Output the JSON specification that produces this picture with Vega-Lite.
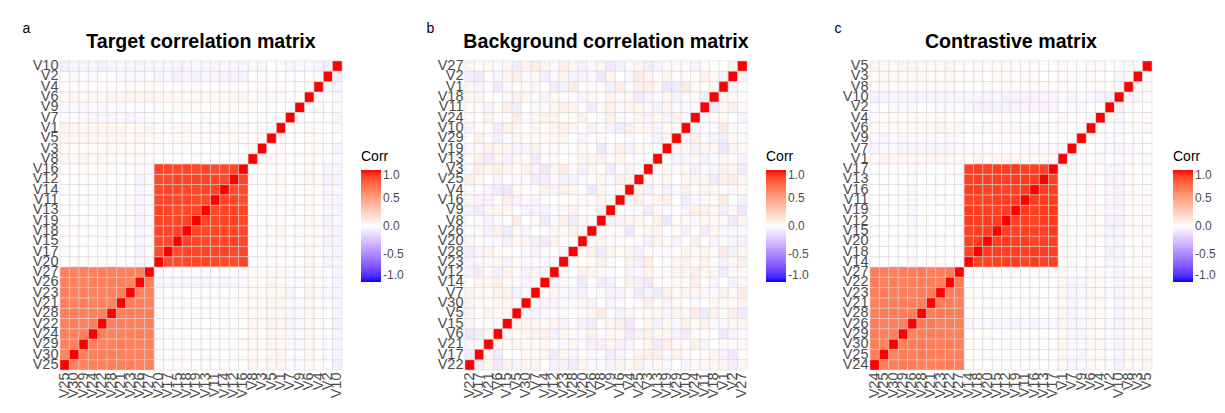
{
  "$schema": "https://vega.github.io/schema/vega-lite/v6.json",
  "padding": {"left": 22, "top": 21, "right": 5, "bottom": 0},
  "background": "white",
  "config": {
    "font": "Liberation Sans",
    "view": {"stroke": null},
    "rect": {"stroke": "#d2d2d2", "strokeWidth": 0.5},
    "title": {"fontSize": 19.6, "fontWeight": "bold", "color": "black", "offset": -32, "anchor": "middle", "frame": "group"},
    "axis": {"domain": false, "ticks": false, "grid": false, "labelFontSize": 14.5, "labelColor": "#4d4d4d", "labelPadding": 2, "labelOverlap": false, "labelBound": false},
    "axisX": {"labelAngle": -90},
    "legend": {"titleFontSize": 14, "titleFontWeight": "normal", "titleColor": "black", "labelFontSize": 12, "labelColor": "#4d4d4d", "gradientLength": 112, "gradientThickness": 20, "titlePadding": 6, "labelOffset": 7, "gradientStrokeWidth": 0}
  },
  "datasets": {
    "corr": [
      {"i":"V1","j":"V1","a":1,"b":1,"c":1},{"i":"V2","j":"V2","a":1,"b":1,"c":1},{"i":"V3","j":"V3","a":1,"b":1,"c":1},{"i":"V4","j":"V4","a":1,"b":1,"c":1},{"i":"V5","j":"V5","a":1,"b":1,"c":1},
      {"i":"V6","j":"V6","a":1,"b":1,"c":1},{"i":"V7","j":"V7","a":1,"b":1,"c":1},{"i":"V8","j":"V8","a":1,"b":1,"c":1},{"i":"V9","j":"V9","a":1,"b":1,"c":1},{"i":"V10","j":"V10","a":1,"b":1,"c":1},
      {"i":"V11","j":"V11","a":1,"b":1,"c":1},{"i":"V12","j":"V12","a":1,"b":1,"c":1},{"i":"V13","j":"V13","a":1,"b":1,"c":1},{"i":"V14","j":"V14","a":1,"b":1,"c":1},{"i":"V15","j":"V15","a":1,"b":1,"c":1},
      {"i":"V16","j":"V16","a":1,"b":1,"c":1},{"i":"V17","j":"V17","a":1,"b":1,"c":1},{"i":"V18","j":"V18","a":1,"b":1,"c":1},{"i":"V19","j":"V19","a":1,"b":1,"c":1},{"i":"V20","j":"V20","a":1,"b":1,"c":1},
      {"i":"V21","j":"V21","a":1,"b":1,"c":1},{"i":"V22","j":"V22","a":1,"b":1,"c":1},{"i":"V23","j":"V23","a":1,"b":1,"c":1},{"i":"V24","j":"V24","a":1,"b":1,"c":1},{"i":"V25","j":"V25","a":1,"b":1,"c":1},
      {"i":"V26","j":"V26","a":1,"b":1,"c":1},{"i":"V27","j":"V27","a":1,"b":1,"c":1},{"i":"V28","j":"V28","a":1,"b":1,"c":1},{"i":"V29","j":"V29","a":1,"b":1,"c":1},{"i":"V30","j":"V30","a":1,"b":1,"c":1},

      {"i":"V1","j":"V2","a":0.01,"b":-0.05,"c":0},{"i":"V1","j":"V3","a":0.03,"b":0.08,"c":0.02},{"i":"V1","j":"V4","a":0.02,"b":-0.02,"c":0.03},{"i":"V1","j":"V5","a":0.04,"b":0.03,"c":0.03},{"i":"V1","j":"V6","a":0.03,"b":-0.1,"c":0.02},
      {"i":"V1","j":"V7","a":-0.01,"b":0.06,"c":-0.02},{"i":"V1","j":"V8","a":0.02,"b":0.02,"c":0.03},{"i":"V1","j":"V9","a":0,"b":-0.06,"c":-0.01},{"i":"V1","j":"V10","a":-0.02,"b":0.11,"c":-0.03},
      {"i":"V1","j":"V11","a":0.03,"b":0.03,"c":0.04},{"i":"V1","j":"V12","a":0.04,"b":-0.08,"c":0.05},{"i":"V1","j":"V13","a":0.02,"b":0.05,"c":0.04},{"i":"V1","j":"V14","a":0.03,"b":0,"c":0.03},{"i":"V1","j":"V15","a":0.04,"b":-0.03,"c":0.05},
      {"i":"V1","j":"V16","a":0.03,"b":0.1,"c":0.04},{"i":"V1","j":"V17","a":0.02,"b":-0.05,"c":0.03},{"i":"V1","j":"V18","a":0.05,"b":0.06,"c":0.05},{"i":"V1","j":"V19","a":0.03,"b":-0.11,"c":0.04},{"i":"V1","j":"V20","a":0.02,"b":0.02,"c":0.03},
      {"i":"V1","j":"V21","a":0.05,"b":-0.02,"c":0.05},{"i":"V1","j":"V22","a":0.06,"b":0.05,"c":0.06},{"i":"V1","j":"V23","a":0.04,"b":-0.06,"c":0.05},{"i":"V1","j":"V24","a":0.05,"b":0.03,"c":0.04},{"i":"V1","j":"V25","a":0.06,"b":0.08,"c":0.06},
      {"i":"V1","j":"V26","a":0.04,"b":-0.03,"c":0.05},{"i":"V1","j":"V27","a":0.05,"b":0,"c":0.04},{"i":"V1","j":"V28","a":0.05,"b":0.1,"c":0.06},{"i":"V1","j":"V29","a":0.04,"b":-0.08,"c":0.05},{"i":"V1","j":"V30","a":0.06,"b":0.03,"c":0.05},

      {"i":"V2","j":"V3","a":0.01,"b":0.06,"c":0},{"i":"V2","j":"V4","a":0.02,"b":-0.03,"c":0.01},{"i":"V2","j":"V5","a":-0.01,"b":0.1,"c":0},{"i":"V2","j":"V6","a":0,"b":-0.05,"c":-0.01},
      {"i":"V2","j":"V7","a":-0.02,"b":0.03,"c":-0.03},{"i":"V2","j":"V8","a":0.01,"b":-0.1,"c":0.01},{"i":"V2","j":"V9","a":-0.01,"b":0.05,"c":-0.02},{"i":"V2","j":"V10","a":-0.07,"b":-0.02,"c":-0.06},
      {"i":"V2","j":"V11","a":-0.05,"b":0.08,"c":-0.05},{"i":"V2","j":"V12","a":-0.06,"b":-0.03,"c":-0.06},{"i":"V2","j":"V13","a":-0.04,"b":0.02,"c":-0.05},{"i":"V2","j":"V14","a":-0.05,"b":-0.06,"c":-0.04},{"i":"V2","j":"V15","a":-0.06,"b":0.05,"c":-0.06},
      {"i":"V2","j":"V16","a":-0.05,"b":0,"c":-0.05},{"i":"V2","j":"V17","a":-0.04,"b":-0.1,"c":-0.04},{"i":"V2","j":"V18","a":-0.05,"b":0.03,"c":-0.06},{"i":"V2","j":"V19","a":-0.06,"b":0.06,"c":-0.05},{"i":"V2","j":"V20","a":-0.05,"b":-0.05,"c":-0.05},
      {"i":"V2","j":"V21","a":-0.02,"b":0.02,"c":-0.01},{"i":"V2","j":"V22","a":-0.01,"b":-0.08,"c":-0.02},{"i":"V2","j":"V23","a":-0.03,"b":0.05,"c":-0.03},{"i":"V2","j":"V24","a":-0.02,"b":0,"c":-0.02},{"i":"V2","j":"V25","a":-0.01,"b":0.1,"c":-0.01},
      {"i":"V2","j":"V26","a":-0.03,"b":-0.03,"c":-0.03},{"i":"V2","j":"V27","a":-0.02,"b":0.06,"c":-0.02},{"i":"V2","j":"V28","a":-0.01,"b":-0.06,"c":-0.01},{"i":"V2","j":"V29","a":-0.02,"b":0.03,"c":-0.03},{"i":"V2","j":"V30","a":-0.03,"b":-0.02,"c":-0.02},

      {"i":"V3","j":"V4","a":0.02,"b":-0.06,"c":0.01},{"i":"V3","j":"V5","a":0.01,"b":0.03,"c":0.02},{"i":"V3","j":"V6","a":0.03,"b":0.08,"c":0.02},{"i":"V3","j":"V7","a":-0.01,"b":-0.05,"c":-0.02},
      {"i":"V3","j":"V8","a":0.02,"b":0.02,"c":0.03},{"i":"V3","j":"V9","a":0,"b":-0.08,"c":-0.01},{"i":"V3","j":"V10","a":-0.04,"b":0.05,"c":-0.04},
      {"i":"V3","j":"V11","a":0,"b":-0.03,"c":0.01},{"i":"V3","j":"V12","a":0.01,"b":0.06,"c":0.02},{"i":"V3","j":"V13","a":-0.01,"b":0,"c":0},{"i":"V3","j":"V14","a":0,"b":-0.1,"c":0.01},{"i":"V3","j":"V15","a":0.01,"b":0.05,"c":0.02},
      {"i":"V3","j":"V16","a":0,"b":-0.02,"c":0.01},{"i":"V3","j":"V17","a":-0.01,"b":0.08,"c":0},{"i":"V3","j":"V18","a":0.01,"b":-0.05,"c":0.02},{"i":"V3","j":"V19","a":0,"b":0.03,"c":0.01},{"i":"V3","j":"V20","a":0.01,"b":-0.06,"c":0},
      {"i":"V3","j":"V21","a":0.02,"b":0.05,"c":0.03},{"i":"V3","j":"V22","a":0.03,"b":-0.03,"c":0.04},{"i":"V3","j":"V23","a":0.02,"b":0.1,"c":0.03},{"i":"V3","j":"V24","a":0.01,"b":-0.06,"c":0.02},{"i":"V3","j":"V25","a":0.03,"b":0.02,"c":0.04},
      {"i":"V3","j":"V26","a":0.02,"b":0.06,"c":0.03},{"i":"V3","j":"V27","a":0.02,"b":-0.08,"c":0.02},{"i":"V3","j":"V28","a":0.03,"b":0.03,"c":0.04},{"i":"V3","j":"V29","a":0.02,"b":-0.02,"c":0.03},{"i":"V3","j":"V30","a":0.01,"b":0.08,"c":0.03},

      {"i":"V4","j":"V5","a":0.01,"b":0.05,"c":0.02},{"i":"V4","j":"V6","a":0.02,"b":-0.08,"c":0.01},{"i":"V4","j":"V7","a":-0.01,"b":0.02,"c":-0.02},{"i":"V4","j":"V8","a":0.02,"b":0.06,"c":0.01},
      {"i":"V4","j":"V9","a":0.01,"b":-0.03,"c":0},{"i":"V4","j":"V10","a":-0.05,"b":0.08,"c":-0.05},
      {"i":"V4","j":"V11","a":0.01,"b":0.06,"c":0},{"i":"V4","j":"V12","a":0.02,"b":-0.05,"c":0.01},{"i":"V4","j":"V13","a":0,"b":0.02,"c":-0.01},{"i":"V4","j":"V14","a":0.01,"b":0.08,"c":0},{"i":"V4","j":"V15","a":0.02,"b":-0.1,"c":0.01},
      {"i":"V4","j":"V16","a":0.01,"b":0.03,"c":0},{"i":"V4","j":"V17","a":0,"b":-0.02,"c":-0.01},{"i":"V4","j":"V18","a":0.01,"b":0.05,"c":0},{"i":"V4","j":"V19","a":0.02,"b":-0.06,"c":0.01},{"i":"V4","j":"V20","a":0.01,"b":0,"c":0},
      {"i":"V4","j":"V21","a":0.02,"b":-0.05,"c":0.02},{"i":"V4","j":"V22","a":0.01,"b":0.03,"c":0.01},{"i":"V4","j":"V23","a":0.03,"b":0.08,"c":0.03},{"i":"V4","j":"V24","a":0.02,"b":-0.02,"c":0.02},{"i":"V4","j":"V25","a":0.01,"b":0.06,"c":0.01},
      {"i":"V4","j":"V26","a":0.02,"b":-0.1,"c":0.03},{"i":"V4","j":"V27","a":0.03,"b":0.02,"c":0.02},{"i":"V4","j":"V28","a":0.02,"b":0.05,"c":0.02},{"i":"V4","j":"V29","a":0.01,"b":-0.03,"c":0.01},{"i":"V4","j":"V30","a":0.02,"b":0,"c":0.03},

      {"i":"V5","j":"V6","a":0.03,"b":0.03,"c":0.03},{"i":"V5","j":"V7","a":-0.01,"b":-0.06,"c":-0.01},{"i":"V5","j":"V8","a":0.02,"b":0.1,"c":0.03},{"i":"V5","j":"V9","a":0.01,"b":-0.02,"c":0},{"i":"V5","j":"V10","a":0,"b":0.05,"c":-0.01},
      {"i":"V5","j":"V11","a":0.02,"b":-0.08,"c":0.02},{"i":"V5","j":"V12","a":0.03,"b":0.02,"c":0.03},{"i":"V5","j":"V13","a":0.02,"b":0.06,"c":0.01},{"i":"V5","j":"V14","a":0.01,"b":-0.03,"c":0.02},{"i":"V5","j":"V15","a":0.03,"b":0.05,"c":0.03},
      {"i":"V5","j":"V16","a":0.02,"b":-0.06,"c":0.02},{"i":"V5","j":"V17","a":0.02,"b":0,"c":0.01},{"i":"V5","j":"V18","a":0.03,"b":0.08,"c":0.03},{"i":"V5","j":"V19","a":0.01,"b":-0.05,"c":0.02},{"i":"V5","j":"V20","a":0.02,"b":0.03,"c":0.02},
      {"i":"V5","j":"V21","a":0.05,"b":0.06,"c":0.04},{"i":"V5","j":"V22","a":0.06,"b":-0.05,"c":0.05},{"i":"V5","j":"V23","a":0.04,"b":0.02,"c":0.04},{"i":"V5","j":"V24","a":0.05,"b":0.1,"c":0.05},{"i":"V5","j":"V25","a":0.05,"b":-0.03,"c":0.04},
      {"i":"V5","j":"V26","a":0.06,"b":0.05,"c":0.05},{"i":"V5","j":"V27","a":0.04,"b":-0.08,"c":0.03},{"i":"V5","j":"V28","a":0.05,"b":0,"c":0.04},{"i":"V5","j":"V29","a":0.06,"b":0.06,"c":0.05},{"i":"V5","j":"V30","a":0.05,"b":-0.02,"c":0.04},

      {"i":"V6","j":"V7","a":0.01,"b":0.08,"c":0},{"i":"V6","j":"V8","a":0.03,"b":-0.03,"c":0.02},{"i":"V6","j":"V9","a":0.02,"b":0.05,"c":0.01},{"i":"V6","j":"V10","a":-0.03,"b":-0.08,"c":-0.03},
      {"i":"V6","j":"V11","a":0.04,"b":0.02,"c":0.03},{"i":"V6","j":"V12","a":0.05,"b":-0.06,"c":0.04},{"i":"V6","j":"V13","a":0.04,"b":0.05,"c":0.03},{"i":"V6","j":"V14","a":0.03,"b":0.08,"c":0.02},{"i":"V6","j":"V15","a":0.04,"b":-0.02,"c":0.03},
      {"i":"V6","j":"V16","a":0.05,"b":0.03,"c":0.04},{"i":"V6","j":"V17","a":0.04,"b":-0.08,"c":0.03},{"i":"V6","j":"V18","a":0.03,"b":0,"c":0.03},{"i":"V6","j":"V19","a":0.04,"b":0.06,"c":0.04},{"i":"V6","j":"V20","a":0.05,"b":-0.03,"c":0.03},
      {"i":"V6","j":"V21","a":0.05,"b":0.03,"c":0.04},{"i":"V6","j":"V22","a":0.04,"b":-0.1,"c":0.04},{"i":"V6","j":"V23","a":0.06,"b":0.05,"c":0.05},{"i":"V6","j":"V24","a":0.05,"b":0.02,"c":0.04},{"i":"V6","j":"V25","a":0.04,"b":-0.05,"c":0.03},
      {"i":"V6","j":"V26","a":0.05,"b":0.08,"c":0.04},{"i":"V6","j":"V27","a":0.06,"b":-0.02,"c":0.05},{"i":"V6","j":"V28","a":0.05,"b":0.03,"c":0.04},{"i":"V6","j":"V29","a":0.04,"b":-0.06,"c":0.03},{"i":"V6","j":"V30","a":0.05,"b":0.05,"c":0.04},

      {"i":"V7","j":"V8","a":-0.01,"b":0.03,"c":-0.02},{"i":"V7","j":"V9","a":-0.02,"b":-0.05,"c":-0.01},{"i":"V7","j":"V10","a":-0.04,"b":0.06,"c":-0.04},
      {"i":"V7","j":"V11","a":-0.01,"b":-0.03,"c":-0.02},{"i":"V7","j":"V12","a":0,"b":0.05,"c":-0.01},{"i":"V7","j":"V13","a":-0.02,"b":-0.08,"c":-0.03},{"i":"V7","j":"V14","a":-0.01,"b":0.02,"c":-0.02},{"i":"V7","j":"V15","a":0,"b":0.06,"c":-0.01},
      {"i":"V7","j":"V16","a":-0.01,"b":-0.05,"c":-0.02},{"i":"V7","j":"V17","a":-0.02,"b":0.03,"c":-0.03},{"i":"V7","j":"V18","a":-0.01,"b":-0.02,"c":-0.02},{"i":"V7","j":"V19","a":0,"b":0.08,"c":-0.01},{"i":"V7","j":"V20","a":-0.01,"b":-0.06,"c":-0.02},
      {"i":"V7","j":"V21","a":-0.03,"b":0.02,"c":-0.04},{"i":"V7","j":"V22","a":-0.04,"b":0.06,"c":-0.05},{"i":"V7","j":"V23","a":-0.05,"b":-0.03,"c":-0.04},{"i":"V7","j":"V24","a":-0.04,"b":0.05,"c":-0.05},{"i":"V7","j":"V25","a":-0.02,"b":-0.08,"c":-0.03},
      {"i":"V7","j":"V26","a":-0.03,"b":0,"c":-0.04},{"i":"V7","j":"V27","a":-0.02,"b":0.1,"c":-0.03},{"i":"V7","j":"V28","a":-0.04,"b":-0.05,"c":-0.05},{"i":"V7","j":"V29","a":-0.03,"b":0.03,"c":-0.04},{"i":"V7","j":"V30","a":-0.02,"b":-0.02,"c":-0.03},

      {"i":"V8","j":"V9","a":0.01,"b":-0.06,"c":0},{"i":"V8","j":"V10","a":-0.03,"b":0.03,"c":-0.03},
      {"i":"V8","j":"V11","a":0,"b":0.05,"c":0.02},{"i":"V8","j":"V12","a":0.01,"b":-0.03,"c":0.03},{"i":"V8","j":"V13","a":-0.01,"b":0.08,"c":0.02},{"i":"V8","j":"V14","a":0,"b":-0.08,"c":0.01},{"i":"V8","j":"V15","a":0.01,"b":0.02,"c":0.02},
      {"i":"V8","j":"V16","a":0,"b":0.06,"c":0.03},{"i":"V8","j":"V17","a":-0.01,"b":-0.02,"c":0.02},{"i":"V8","j":"V18","a":0,"b":0.03,"c":0.01},{"i":"V8","j":"V19","a":0.01,"b":-0.1,"c":0.02},{"i":"V8","j":"V20","a":0,"b":0.05,"c":0.02},
      {"i":"V8","j":"V21","a":0.04,"b":-0.06,"c":0.03},{"i":"V8","j":"V22","a":0.05,"b":0.02,"c":0.04},{"i":"V8","j":"V23","a":0.03,"b":0.08,"c":0.03},{"i":"V8","j":"V24","a":0.04,"b":-0.03,"c":0.03},{"i":"V8","j":"V25","a":0.05,"b":0.05,"c":0.04},
      {"i":"V8","j":"V26","a":0.04,"b":-0.02,"c":0.03},{"i":"V8","j":"V27","a":0.03,"b":0.06,"c":0.02},{"i":"V8","j":"V28","a":0.04,"b":-0.08,"c":0.03},{"i":"V8","j":"V29","a":0.05,"b":0.03,"c":0.04},{"i":"V8","j":"V30","a":0.04,"b":0,"c":0.03},

      {"i":"V9","j":"V10","a":-0.02,"b":-0.05,"c":-0.02},
      {"i":"V9","j":"V11","a":0.01,"b":0.08,"c":0},{"i":"V9","j":"V12","a":0.02,"b":-0.02,"c":0.01},{"i":"V9","j":"V13","a":0,"b":0.03,"c":-0.01},{"i":"V9","j":"V14","a":0.01,"b":-0.06,"c":0},{"i":"V9","j":"V15","a":0.02,"b":0.05,"c":0.01},
      {"i":"V9","j":"V16","a":0.01,"b":0,"c":0},{"i":"V9","j":"V17","a":0,"b":-0.08,"c":-0.01},{"i":"V9","j":"V18","a":0.01,"b":0.06,"c":0},{"i":"V9","j":"V19","a":0.02,"b":-0.03,"c":0.01},{"i":"V9","j":"V20","a":0.01,"b":0.02,"c":0},
      {"i":"V9","j":"V21","a":-0.02,"b":0.05,"c":-0.03},{"i":"V9","j":"V22","a":-0.03,"b":-0.06,"c":-0.04},{"i":"V9","j":"V23","a":-0.01,"b":0.03,"c":-0.02},{"i":"V9","j":"V24","a":-0.02,"b":0.08,"c":-0.03},{"i":"V9","j":"V25","a":-0.03,"b":-0.02,"c":-0.04},
      {"i":"V9","j":"V26","a":-0.02,"b":0.02,"c":-0.03},{"i":"V9","j":"V27","a":-0.01,"b":-0.1,"c":-0.02},{"i":"V9","j":"V28","a":-0.02,"b":0.05,"c":-0.03},{"i":"V9","j":"V29","a":-0.03,"b":0,"c":-0.04},{"i":"V9","j":"V30","a":-0.02,"b":-0.05,"c":-0.03},

      {"i":"V10","j":"V11","a":-0.04,"b":-0.02,"c":-0.05},{"i":"V10","j":"V12","a":-0.05,"b":0.06,"c":-0.06},{"i":"V10","j":"V13","a":-0.04,"b":-0.05,"c":-0.05},{"i":"V10","j":"V14","a":-0.03,"b":0.03,"c":-0.04},{"i":"V10","j":"V15","a":-0.05,"b":0.08,"c":-0.05},
      {"i":"V10","j":"V16","a":-0.04,"b":-0.08,"c":-0.06},{"i":"V10","j":"V17","a":-0.04,"b":0.02,"c":-0.05},{"i":"V10","j":"V18","a":-0.05,"b":-0.03,"c":-0.04},{"i":"V10","j":"V19","a":-0.03,"b":0.05,"c":-0.05},{"i":"V10","j":"V20","a":-0.04,"b":0,"c":-0.05},
      {"i":"V10","j":"V21","a":-0.04,"b":0.03,"c":-0.05},{"i":"V10","j":"V22","a":-0.06,"b":-0.05,"c":-0.05},{"i":"V10","j":"V23","a":-0.04,"b":0.08,"c":-0.04},{"i":"V10","j":"V24","a":-0.05,"b":-0.02,"c":-0.06},{"i":"V10","j":"V25","a":-0.07,"b":0.05,"c":-0.05},
      {"i":"V10","j":"V26","a":-0.05,"b":-0.06,"c":-0.05},{"i":"V10","j":"V27","a":-0.04,"b":0.02,"c":-0.04},{"i":"V10","j":"V28","a":-0.05,"b":0.06,"c":-0.06},{"i":"V10","j":"V29","a":-0.04,"b":-0.03,"c":-0.05},{"i":"V10","j":"V30","a":-0.05,"b":0,"c":-0.05},

      {"i":"V11","j":"V12","a":0.88,"b":0.05,"c":0.9},{"i":"V11","j":"V13","a":0.87,"b":-0.06,"c":0.91},{"i":"V11","j":"V14","a":0.89,"b":0.02,"c":0.89},{"i":"V11","j":"V15","a":0.88,"b":0.08,"c":0.9},{"i":"V11","j":"V16","a":0.86,"b":-0.03,"c":0.91},
      {"i":"V11","j":"V17","a":0.88,"b":0.03,"c":0.9},{"i":"V11","j":"V18","a":0.89,"b":-0.08,"c":0.89},{"i":"V11","j":"V19","a":0.87,"b":0.06,"c":0.91},{"i":"V11","j":"V20","a":0.88,"b":0,"c":0.9},
      {"i":"V11","j":"V21","a":0.01,"b":-0.05,"c":0},{"i":"V11","j":"V22","a":0,"b":0.03,"c":0.01},{"i":"V11","j":"V23","a":0.02,"b":0.08,"c":0.01},{"i":"V11","j":"V24","a":0.01,"b":-0.02,"c":0},{"i":"V11","j":"V25","a":0,"b":0.05,"c":-0.01},
      {"i":"V11","j":"V26","a":-0.04,"b":-0.08,"c":-0.03},{"i":"V11","j":"V27","a":-0.03,"b":0.02,"c":-0.01},{"i":"V11","j":"V28","a":0.01,"b":0.06,"c":0},{"i":"V11","j":"V29","a":0.02,"b":-0.03,"c":0.01},{"i":"V11","j":"V30","a":0.01,"b":0,"c":0},

      {"i":"V12","j":"V13","a":0.88,"b":0.03,"c":0.9},{"i":"V12","j":"V14","a":0.87,"b":-0.05,"c":0.91},{"i":"V12","j":"V15","a":0.89,"b":0.06,"c":0.9},{"i":"V12","j":"V16","a":0.88,"b":0,"c":0.89},{"i":"V12","j":"V17","a":0.87,"b":-0.08,"c":0.91},
      {"i":"V12","j":"V18","a":0.88,"b":0.05,"c":0.9},{"i":"V12","j":"V19","a":0.89,"b":-0.02,"c":0.9},{"i":"V12","j":"V20","a":0.87,"b":0.08,"c":0.91},
      {"i":"V12","j":"V21","a":0,"b":0.03,"c":0.01},{"i":"V12","j":"V22","a":0.01,"b":-0.06,"c":0},{"i":"V12","j":"V23","a":0.01,"b":0.02,"c":0},{"i":"V12","j":"V24","a":0.02,"b":0.08,"c":0.01},{"i":"V12","j":"V25","a":0.01,"b":-0.03,"c":0},
      {"i":"V12","j":"V26","a":-0.04,"b":0.05,"c":-0.03},{"i":"V12","j":"V27","a":-0.03,"b":-0.02,"c":-0.02},{"i":"V12","j":"V28","a":0,"b":0,"c":0.01},{"i":"V12","j":"V29","a":0.01,"b":0.06,"c":0},{"i":"V12","j":"V30","a":0.02,"b":-0.05,"c":0.01},

      {"i":"V13","j":"V14","a":0.88,"b":0.02,"c":0.9},{"i":"V13","j":"V15","a":0.87,"b":-0.06,"c":0.9},{"i":"V13","j":"V16","a":0.89,"b":0.05,"c":0.91},{"i":"V13","j":"V17","a":0.88,"b":0.08,"c":0.89},{"i":"V13","j":"V18","a":0.87,"b":-0.03,"c":0.9},
      {"i":"V13","j":"V19","a":0.88,"b":0,"c":0.91},{"i":"V13","j":"V20","a":0.89,"b":0.06,"c":0.9},
      {"i":"V13","j":"V21","a":0.01,"b":-0.08,"c":0},{"i":"V13","j":"V22","a":0,"b":0.03,"c":0.01},{"i":"V13","j":"V23","a":0.02,"b":0,"c":0.01},{"i":"V13","j":"V24","a":0.01,"b":0.05,"c":0},{"i":"V13","j":"V25","a":0.01,"b":-0.02,"c":0.01},
      {"i":"V13","j":"V26","a":-0.05,"b":0.06,"c":-0.03},{"i":"V13","j":"V27","a":-0.03,"b":-0.05,"c":-0.02},{"i":"V13","j":"V28","a":0.01,"b":0.02,"c":0},{"i":"V13","j":"V29","a":0,"b":-0.06,"c":0.01},{"i":"V13","j":"V30","a":0.01,"b":0.03,"c":0},

      {"i":"V14","j":"V15","a":0.88,"b":0.03,"c":0.9},{"i":"V14","j":"V16","a":0.87,"b":-0.02,"c":0.91},{"i":"V14","j":"V17","a":0.89,"b":0.06,"c":0.9},{"i":"V14","j":"V18","a":0.88,"b":-0.05,"c":0.89},{"i":"V14","j":"V19","a":0.88,"b":0.02,"c":0.91},
      {"i":"V14","j":"V20","a":0.87,"b":-0.08,"c":0.9},
      {"i":"V14","j":"V21","a":0.02,"b":0.05,"c":0.01},{"i":"V14","j":"V22","a":0.01,"b":0,"c":0},{"i":"V14","j":"V23","a":0,"b":-0.03,"c":0.01},{"i":"V14","j":"V24","a":0.01,"b":0.08,"c":0.01},{"i":"V14","j":"V25","a":0.02,"b":-0.06,"c":0},
      {"i":"V14","j":"V26","a":-0.04,"b":0.02,"c":-0.04},{"i":"V14","j":"V27","a":-0.02,"b":0.05,"c":-0.02},{"i":"V14","j":"V28","a":0.01,"b":-0.02,"c":0},{"i":"V14","j":"V29","a":0.01,"b":0.03,"c":0.01},{"i":"V14","j":"V30","a":0,"b":-0.05,"c":0},

      {"i":"V15","j":"V16","a":0.88,"b":0.08,"c":0.9},{"i":"V15","j":"V17","a":0.87,"b":0,"c":0.91},{"i":"V15","j":"V18","a":0.89,"b":-0.03,"c":0.9},{"i":"V15","j":"V19","a":0.88,"b":0.05,"c":0.89},{"i":"V15","j":"V20","a":0.87,"b":-0.06,"c":0.9},
      {"i":"V15","j":"V21","a":0.01,"b":0.02,"c":0},{"i":"V15","j":"V22","a":0.02,"b":0.06,"c":0.01},{"i":"V15","j":"V23","a":0.01,"b":-0.05,"c":0},{"i":"V15","j":"V24","a":0,"b":0.03,"c":0.01},{"i":"V15","j":"V25","a":0.01,"b":0,"c":0},
      {"i":"V15","j":"V26","a":-0.04,"b":-0.08,"c":-0.03},{"i":"V15","j":"V27","a":-0.03,"b":0.05,"c":-0.01},{"i":"V15","j":"V28","a":0.02,"b":0.02,"c":0.01},{"i":"V15","j":"V29","a":0.01,"b":-0.03,"c":0},{"i":"V15","j":"V30","a":0.01,"b":0.06,"c":0.01},

      {"i":"V16","j":"V17","a":0.88,"b":-0.05,"c":0.9},{"i":"V16","j":"V18","a":0.88,"b":0.03,"c":0.91},{"i":"V16","j":"V19","a":0.87,"b":0.08,"c":0.9},{"i":"V16","j":"V20","a":0.89,"b":-0.02,"c":0.89},
      {"i":"V16","j":"V21","a":0,"b":-0.06,"c":0.01},{"i":"V16","j":"V22","a":0.01,"b":0.05,"c":0},{"i":"V16","j":"V23","a":0.02,"b":0,"c":0.01},{"i":"V16","j":"V24","a":0.01,"b":-0.03,"c":0},{"i":"V16","j":"V25","a":0,"b":0.08,"c":0.01},
      {"i":"V16","j":"V26","a":-0.03,"b":0.02,"c":-0.04},{"i":"V16","j":"V27","a":-0.03,"b":-0.06,"c":-0.02},{"i":"V16","j":"V28","a":0.01,"b":0.03,"c":0},{"i":"V16","j":"V29","a":0.02,"b":0,"c":0.01},{"i":"V16","j":"V30","a":0.01,"b":-0.02,"c":0},

      {"i":"V17","j":"V18","a":0.88,"b":0.06,"c":0.9},{"i":"V17","j":"V19","a":0.88,"b":-0.03,"c":0.91},{"i":"V17","j":"V20","a":0.87,"b":0.02,"c":0.9},
      {"i":"V17","j":"V21","a":0.01,"b":0.03,"c":0},{"i":"V17","j":"V22","a":0,"b":-0.08,"c":0.01},{"i":"V17","j":"V23","a":0.01,"b":0.05,"c":0},{"i":"V17","j":"V24","a":0.02,"b":0,"c":0.01},{"i":"V17","j":"V25","a":0.01,"b":0.06,"c":0},
      {"i":"V17","j":"V26","a":-0.04,"b":-0.03,"c":-0.03},{"i":"V17","j":"V27","a":-0.02,"b":0.02,"c":-0.02},{"i":"V17","j":"V28","a":0.01,"b":-0.05,"c":0.01},{"i":"V17","j":"V29","a":0,"b":0.08,"c":0},{"i":"V17","j":"V30","a":0.01,"b":0.03,"c":0.01},

      {"i":"V18","j":"V19","a":0.89,"b":0.05,"c":0.9},{"i":"V18","j":"V20","a":0.88,"b":-0.05,"c":0.91},
      {"i":"V18","j":"V21","a":0.02,"b":0,"c":0.01},{"i":"V18","j":"V22","a":0.01,"b":0.06,"c":0},{"i":"V18","j":"V23","a":0,"b":-0.02,"c":0.01},{"i":"V18","j":"V24","a":0.01,"b":0.03,"c":0},{"i":"V18","j":"V25","a":0.02,"b":-0.08,"c":0.01},
      {"i":"V18","j":"V26","a":-0.04,"b":0.05,"c":-0.03},{"i":"V18","j":"V27","a":-0.03,"b":0,"c":-0.02},{"i":"V18","j":"V28","a":0,"b":0.02,"c":0},{"i":"V18","j":"V29","a":0.01,"b":-0.06,"c":0.01},{"i":"V18","j":"V30","a":0.02,"b":0.05,"c":0},

      {"i":"V19","j":"V20","a":0.88,"b":0.03,"c":0.9},
      {"i":"V19","j":"V21","a":0.01,"b":0.08,"c":0},{"i":"V19","j":"V22","a":0.02,"b":-0.03,"c":0.01},{"i":"V19","j":"V23","a":0.01,"b":0.02,"c":0},{"i":"V19","j":"V24","a":0,"b":-0.06,"c":0.01},{"i":"V19","j":"V25","a":0.01,"b":0.05,"c":0},
      {"i":"V19","j":"V26","a":-0.04,"b":0,"c":-0.04},{"i":"V19","j":"V27","a":-0.03,"b":0.03,"c":-0.02},{"i":"V19","j":"V28","a":0.01,"b":-0.02,"c":0},{"i":"V19","j":"V29","a":0.02,"b":0.06,"c":0.01},{"i":"V19","j":"V30","a":0.01,"b":-0.05,"c":0},

      {"i":"V20","j":"V21","a":0,"b":-0.03,"c":0.01},{"i":"V20","j":"V22","a":0.01,"b":0.05,"c":0},{"i":"V20","j":"V23","a":0.02,"b":0,"c":0.01},{"i":"V20","j":"V24","a":0.01,"b":0.08,"c":0},{"i":"V20","j":"V25","a":0,"b":-0.02,"c":0.01},
      {"i":"V20","j":"V26","a":-0.04,"b":0.03,"c":-0.03},{"i":"V20","j":"V27","a":-0.02,"b":-0.06,"c":-0.02},{"i":"V20","j":"V28","a":0.01,"b":0.02,"c":0},{"i":"V20","j":"V29","a":0.01,"b":-0.05,"c":0.01},{"i":"V20","j":"V30","a":0.02,"b":0.06,"c":0},

      {"i":"V21","j":"V22","a":0.65,"b":0.05,"c":0.66},{"i":"V21","j":"V23","a":0.66,"b":-0.03,"c":0.67},{"i":"V21","j":"V24","a":0.64,"b":0.08,"c":0.65},{"i":"V21","j":"V25","a":0.65,"b":0,"c":0.66},{"i":"V21","j":"V26","a":0.66,"b":-0.06,"c":0.67},
      {"i":"V21","j":"V27","a":0.64,"b":0.03,"c":0.65},{"i":"V21","j":"V28","a":0.65,"b":0.06,"c":0.66},{"i":"V21","j":"V29","a":0.66,"b":-0.02,"c":0.67},{"i":"V21","j":"V30","a":0.65,"b":0.02,"c":0.66},
      {"i":"V22","j":"V23","a":0.65,"b":-0.05,"c":0.66},{"i":"V22","j":"V24","a":0.66,"b":0.03,"c":0.67},{"i":"V22","j":"V25","a":0.64,"b":0.08,"c":0.65},{"i":"V22","j":"V26","a":0.65,"b":-0.02,"c":0.66},{"i":"V22","j":"V27","a":0.66,"b":0.05,"c":0.67},
      {"i":"V22","j":"V28","a":0.65,"b":-0.08,"c":0.66},{"i":"V22","j":"V29","a":0.64,"b":0,"c":0.65},{"i":"V22","j":"V30","a":0.66,"b":0.06,"c":0.67},
      {"i":"V23","j":"V24","a":0.65,"b":0.02,"c":0.66},{"i":"V23","j":"V25","a":0.66,"b":-0.06,"c":0.67},{"i":"V23","j":"V26","a":0.64,"b":0.03,"c":0.65},{"i":"V23","j":"V27","a":0.65,"b":0.08,"c":0.66},{"i":"V23","j":"V28","a":0.66,"b":-0.03,"c":0.67},
      {"i":"V23","j":"V29","a":0.65,"b":0.05,"c":0.66},{"i":"V23","j":"V30","a":0.64,"b":-0.02,"c":0.65},
      {"i":"V24","j":"V25","a":0.65,"b":0.06,"c":0.66},{"i":"V24","j":"V26","a":0.66,"b":0,"c":0.67},{"i":"V24","j":"V27","a":0.65,"b":-0.05,"c":0.66},{"i":"V24","j":"V28","a":0.64,"b":0.03,"c":0.65},{"i":"V24","j":"V29","a":0.66,"b":0.08,"c":0.67},
      {"i":"V24","j":"V30","a":0.65,"b":-0.03,"c":0.66},
      {"i":"V25","j":"V26","a":0.64,"b":0.02,"c":0.65},{"i":"V25","j":"V27","a":0.65,"b":0.05,"c":0.66},{"i":"V25","j":"V28","a":0.66,"b":-0.06,"c":0.67},{"i":"V25","j":"V29","a":0.65,"b":0,"c":0.66},{"i":"V25","j":"V30","a":0.63,"b":0.03,"c":0.64},
      {"i":"V26","j":"V27","a":0.65,"b":-0.03,"c":0.66},{"i":"V26","j":"V28","a":0.66,"b":0.08,"c":0.67},{"i":"V26","j":"V29","a":0.64,"b":0.02,"c":0.65},{"i":"V26","j":"V30","a":0.65,"b":-0.05,"c":0.66},
      {"i":"V27","j":"V28","a":0.66,"b":0.05,"c":0.67},{"i":"V27","j":"V29","a":0.65,"b":-0.02,"c":0.66},{"i":"V27","j":"V30","a":0.64,"b":0.06,"c":0.65},
      {"i":"V28","j":"V29","a":0.65,"b":0,"c":0.66},{"i":"V28","j":"V30","a":0.66,"b":-0.03,"c":0.67},
      {"i":"V29","j":"V30","a":0.65,"b":0.03,"c":0.66}
    ]
  },
  "hconcat": [
    {
      "data": {"name": "corr"},
      "width": 282, "height": 309,
      "title": {"text": "Target correlation matrix"},
      "layer": [
        {
          "mark": "rect",
          "encoding": {
            "x": {"field": "i", "type": "nominal", "scale": {"domain": ["V25","V30","V29","V24","V22","V28","V21","V23","V26","V27","V20","V17","V15","V18","V19","V13","V11","V14","V12","V16","V8","V3","V5","V1","V7","V9","V6","V4","V2","V10"], "paddingInner": 0, "paddingOuter": 0}, "axis": {"title": null}},
            "y": {"field": "j", "type": "nominal", "scale": {"domain": ["V25","V30","V29","V24","V22","V28","V21","V23","V26","V27","V20","V17","V15","V18","V19","V13","V11","V14","V12","V16","V8","V3","V5","V1","V7","V9","V6","V4","V2","V10"], "reverse": true, "paddingInner": 0, "paddingOuter": 0}, "axis": {"title": "a", "titleAngle": 0, "titleX": -38, "titleY": -29, "titleAlign": "left", "titleBaseline": "alphabetic", "titleFontSize": 14, "titleFontWeight": "normal", "titleColor": "black"}},
            "color": {"field": "a", "type": "quantitative", "scale": {"domain": [-1, 0, 1], "range": ["blue", "white", "red"], "interpolate": "lab"}, "legend": {"title": "Corr", "orient": "none", "legendX": 301, "legendY": 89, "values": [-1, -0.5, 0, 0.5, 1], "format": ".1f", "labelExpr": "replace(datum.label, '\u2212', '-')"}}
          }
        },
        {
          "mark": "rect",
          "encoding": {
            "x": {"field": "j", "type": "nominal", "scale": {"domain": ["V25","V30","V29","V24","V22","V28","V21","V23","V26","V27","V20","V17","V15","V18","V19","V13","V11","V14","V12","V16","V8","V3","V5","V1","V7","V9","V6","V4","V2","V10"], "paddingInner": 0, "paddingOuter": 0}, "axis": {"title": null}},
            "y": {"field": "i", "type": "nominal", "scale": {"domain": ["V25","V30","V29","V24","V22","V28","V21","V23","V26","V27","V20","V17","V15","V18","V19","V13","V11","V14","V12","V16","V8","V3","V5","V1","V7","V9","V6","V4","V2","V10"], "reverse": true, "paddingInner": 0, "paddingOuter": 0}, "axis": {"title": "a", "titleAngle": 0, "titleX": -38, "titleY": -29, "titleAlign": "left", "titleBaseline": "alphabetic", "titleFontSize": 14, "titleFontWeight": "normal", "titleColor": "black"}},
            "color": {"field": "a", "type": "quantitative", "scale": {"domain": [-1, 0, 1], "range": ["blue", "white", "red"], "interpolate": "lab"}, "legend": {"title": "Corr", "orient": "none", "legendX": 301, "legendY": 89, "values": [-1, -0.5, 0, 0.5, 1], "format": ".1f", "labelExpr": "replace(datum.label, '\u2212', '-')"}}
          }
        }
      ]
    },
    {
      "data": {"name": "corr"},
      "width": 282, "height": 309,
      "title": {"text": "Background correlation matrix"},
      "layer": [
        {
          "mark": "rect",
          "encoding": {
            "x": {"field": "i", "type": "nominal", "scale": {"domain": ["V22","V17","V21","V6","V15","V5","V30","V7","V14","V12","V23","V28","V20","V26","V8","V9","V16","V4","V25","V3","V13","V19","V29","V10","V24","V11","V18","V1","V2","V27"], "paddingInner": 0, "paddingOuter": 0}, "axis": {"title": null}},
            "y": {"field": "j", "type": "nominal", "scale": {"domain": ["V22","V17","V21","V6","V15","V5","V30","V7","V14","V12","V23","V28","V20","V26","V8","V9","V16","V4","V25","V3","V13","V19","V29","V10","V24","V11","V18","V1","V2","V27"], "reverse": true, "paddingInner": 0, "paddingOuter": 0}, "axis": {"title": "b", "titleAngle": 0, "titleX": -39, "titleY": -29, "titleAlign": "left", "titleBaseline": "alphabetic", "titleFontSize": 14, "titleFontWeight": "normal", "titleColor": "black"}},
            "color": {"field": "b", "type": "quantitative", "scale": {"domain": [-1, 0, 1], "range": ["blue", "white", "red"], "interpolate": "lab"}, "legend": {"title": "Corr", "orient": "none", "legendX": 301, "legendY": 89, "values": [-1, -0.5, 0, 0.5, 1], "format": ".1f", "labelExpr": "replace(datum.label, '\u2212', '-')"}}
          }
        },
        {
          "mark": "rect",
          "encoding": {
            "x": {"field": "j", "type": "nominal", "scale": {"domain": ["V22","V17","V21","V6","V15","V5","V30","V7","V14","V12","V23","V28","V20","V26","V8","V9","V16","V4","V25","V3","V13","V19","V29","V10","V24","V11","V18","V1","V2","V27"], "paddingInner": 0, "paddingOuter": 0}, "axis": {"title": null}},
            "y": {"field": "i", "type": "nominal", "scale": {"domain": ["V22","V17","V21","V6","V15","V5","V30","V7","V14","V12","V23","V28","V20","V26","V8","V9","V16","V4","V25","V3","V13","V19","V29","V10","V24","V11","V18","V1","V2","V27"], "reverse": true, "paddingInner": 0, "paddingOuter": 0}, "axis": {"title": "b", "titleAngle": 0, "titleX": -39, "titleY": -29, "titleAlign": "left", "titleBaseline": "alphabetic", "titleFontSize": 14, "titleFontWeight": "normal", "titleColor": "black"}},
            "color": {"field": "b", "type": "quantitative", "scale": {"domain": [-1, 0, 1], "range": ["blue", "white", "red"], "interpolate": "lab"}, "legend": {"title": "Corr", "orient": "none", "legendX": 301, "legendY": 89, "values": [-1, -0.5, 0, 0.5, 1], "format": ".1f", "labelExpr": "replace(datum.label, '\u2212', '-')"}}
          }
        }
      ]
    },
    {
      "data": {"name": "corr"},
      "width": 282, "height": 309,
      "title": {"text": "Contrastive matrix"},
      "layer": [
        {
          "mark": "rect",
          "encoding": {
            "x": {"field": "i", "type": "nominal", "scale": {"domain": ["V24","V25","V30","V29","V26","V28","V21","V23","V22","V27","V14","V18","V20","V15","V12","V19","V11","V16","V13","V17","V1","V7","V9","V6","V4","V2","V10","V8","V3","V5"], "paddingInner": 0, "paddingOuter": 0}, "axis": {"title": null}},
            "y": {"field": "j", "type": "nominal", "scale": {"domain": ["V24","V25","V30","V29","V26","V28","V21","V23","V22","V27","V14","V18","V20","V15","V12","V19","V11","V16","V13","V17","V1","V7","V9","V6","V4","V2","V10","V8","V3","V5"], "reverse": true, "paddingInner": 0, "paddingOuter": 0}, "axis": {"title": "c", "titleAngle": 0, "titleX": -36, "titleY": -29, "titleAlign": "left", "titleBaseline": "alphabetic", "titleFontSize": 14, "titleFontWeight": "normal", "titleColor": "black"}},
            "color": {"field": "c", "type": "quantitative", "scale": {"domain": [-1, 0, 1], "range": ["blue", "white", "red"], "interpolate": "lab"}, "legend": {"title": "Corr", "orient": "none", "legendX": 303, "legendY": 89, "values": [-1, -0.5, 0, 0.5, 1], "format": ".1f", "labelExpr": "replace(datum.label, '\u2212', '-')"}}
          }
        },
        {
          "mark": "rect",
          "encoding": {
            "x": {"field": "j", "type": "nominal", "scale": {"domain": ["V24","V25","V30","V29","V26","V28","V21","V23","V22","V27","V14","V18","V20","V15","V12","V19","V11","V16","V13","V17","V1","V7","V9","V6","V4","V2","V10","V8","V3","V5"], "paddingInner": 0, "paddingOuter": 0}, "axis": {"title": null}},
            "y": {"field": "i", "type": "nominal", "scale": {"domain": ["V24","V25","V30","V29","V26","V28","V21","V23","V22","V27","V14","V18","V20","V15","V12","V19","V11","V16","V13","V17","V1","V7","V9","V6","V4","V2","V10","V8","V3","V5"], "reverse": true, "paddingInner": 0, "paddingOuter": 0}, "axis": {"title": "c", "titleAngle": 0, "titleX": -36, "titleY": -29, "titleAlign": "left", "titleBaseline": "alphabetic", "titleFontSize": 14, "titleFontWeight": "normal", "titleColor": "black"}},
            "color": {"field": "c", "type": "quantitative", "scale": {"domain": [-1, 0, 1], "range": ["blue", "white", "red"], "interpolate": "lab"}, "legend": {"title": "Corr", "orient": "none", "legendX": 303, "legendY": 89, "values": [-1, -0.5, 0, 0.5, 1], "format": ".1f", "labelExpr": "replace(datum.label, '\u2212', '-')"}}
          }
        }
      ]
    }
  ],
  "spacing": 123,
  "bounds": "flush",
  "resolve": {"scale": {"color": "independent"}}
}
